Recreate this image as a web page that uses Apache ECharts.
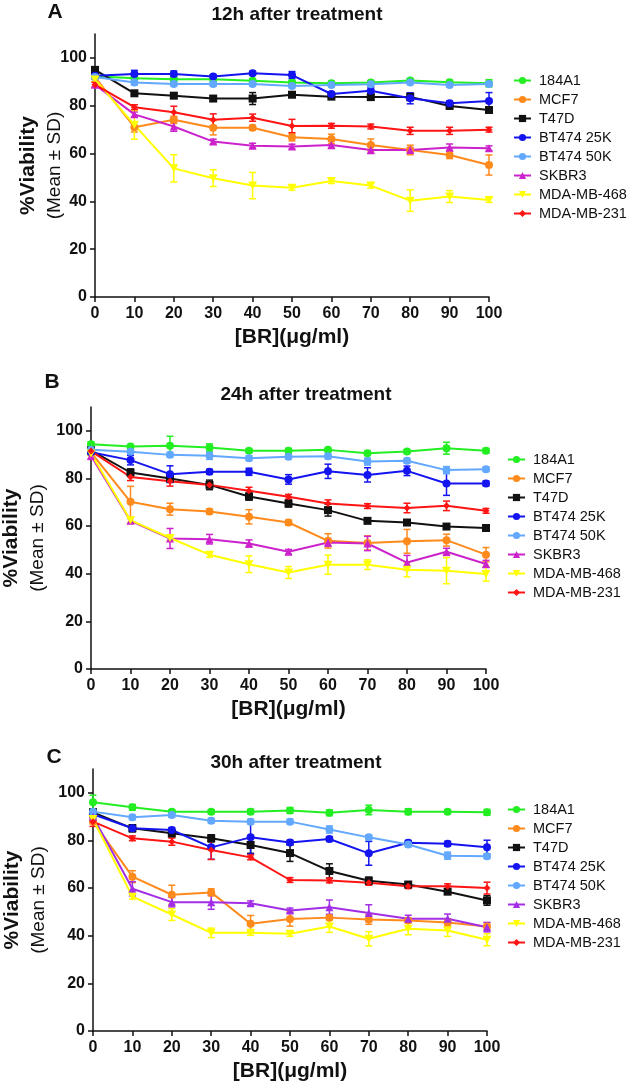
<!DOCTYPE html>
<html><head><meta charset="utf-8">
<script src="https://cdn.jsdelivr.net/npm/echarts@6/dist/echarts.min.js"></script>
<style>html,body{margin:0;padding:0;background:#fff}#c{width:629px;height:1085px}</style>
</head><body><div id="c"></div>
<script>
const doses = [0, 10, 20, 30, 40, 50, 60, 70, 80, 90, 100];
const cellLines = ['184A1', 'MCF7', 'T47D', 'BT474 25K', 'BT474 50K', 'SKBR3', 'MDA-MB-468', 'MDA-MB-231'];
const panelTitles = ['12h after treatment', '24h after treatment', '30h after treatment'];
const panelLetters = ['A', 'B', 'C'];
const yTicks = [0, 20, 40, 60, 80, 100];

// Panel A (12h) means
const A_184A1 = [92.3, 91.5, 91.1, 91.1, 90.4, 89.7, 89.4, 89.7, 90.5, 89.8, 89.4];
const A_MCF7 = [92, 71, 74.1, 70.8, 70.8, 66.8, 66.1, 63.6, 61.5, 59.4, 55.2];
const A_T47D = [95, 85.2, 84.2, 83, 83, 84.6, 83.8, 83.6, 83.7, 79.9, 78.2];
const A_BT25 = [92.5, 93.3, 93.3, 92.2, 93.6, 92.8, 84.9, 86.3, 83.1, 81, 82];
const A_BT50 = [92, 89.7, 89.1, 89.1, 89.1, 88.3, 88.7, 89, 89.7, 88.7, 89.1];
const A_SKBR3 = [88.8, 76.4, 71.3, 65, 63.3, 62.9, 63.6, 61.5, 61.5, 62.5, 62.2];
const A_468 = [91, 72, 53.8, 49.7, 46.6, 45.7, 48.5, 46.6, 40.3, 42, 40.6];
const A_231 = [88.8, 79.4, 77.3, 74.1, 75, 71.5, 71.6, 71.3, 69.5, 69.5, 70];
// Panel A SD
const A_184A1_sd = [1, 0.8, 0.8, 0.8, 0.8, 0.8, 0.8, 0.8, 0.8, 0.8, 1.5];
const A_MCF7_sd = [1, 2, 1.5, 3, 1, 1.5, 2, 2.5, 2, 1.5, 4.2];
const A_T47D_sd = [1, 1, 1, 1, 2.5, 1, 1, 1, 1.5, 1, 1];
const A_BT25_sd = [1, 1.5, 1.2, 0.8, 0.8, 1.5, 0.8, 1.5, 2.3, 1, 3.5];
const A_BT50_sd = [1, 1, 0.8, 0.8, 0.8, 0.8, 0.8, 0.8, 0.8, 0.8, 0.8];
const A_SKBR3_sd = [1, 1, 2, 1, 1, 1, 1.5, 1.5, 1, 1.5, 1];
const A_468_sd = [1, 6, 5.7, 3.5, 5.5, 1, 1, 1, 4.5, 2.5, 1];
const A_231_sd = [1, 1, 2.5, 2.5, 1.5, 2.8, 1, 1, 1.5, 1.5, 1];

// Panel B (24h) means
const B_184A1 = [94.4, 93.4, 93.7, 93, 91.6, 91.6, 92, 90.6, 91.3, 92.7, 91.6];
const B_MCF7 = [91, 70.2, 67.1, 66.1, 63.9, 61.5, 53.8, 52.9, 53.6, 54.1, 48];
const B_T47D = [91.8, 82.5, 80, 77.3, 72.4, 69.5, 66.7, 62.2, 61.5, 59.8, 59.2];
const B_BT25 = [91, 87.7, 81.8, 82.8, 82.8, 79.6, 83, 81.5, 83.2, 77.9, 77.9];
const B_BT50 = [92, 91.2, 89.9, 89.5, 88.5, 89.1, 89.3, 87.1, 87.4, 83.5, 83.9];
const B_SKBR3 = [89.5, 62.2, 54.8, 54.5, 52.7, 49.2, 53.1, 52.7, 44.7, 49.2, 44.1];
const B_468 = [90.5, 62.5, 55, 48, 44, 40.5, 43.8, 43.8, 41.7, 41.3, 39.9];
const B_231 = [91.5, 80.6, 78.8, 77.3, 74.8, 72.3, 69.5, 68.4, 67.6, 68.5, 66.4];
// Panel B SD
const B_184A1_sd = [1, 0.8, 4, 1.5, 0.8, 1, 0.8, 0.8, 0.8, 2.5, 1];
const B_MCF7_sd = [1, 6.5, 2.5, 1, 3, 1, 3, 3, 5, 2.5, 3];
const B_T47D_sd = [1, 1.5, 1.5, 2, 1.5, 1.5, 2.5, 1, 1, 1, 1];
const B_BT25_sd = [1, 2, 3.5, 1, 1.5, 2, 3, 3, 2, 5, 1];
const B_BT50_sd = [1, 1, 1, 1.5, 1, 1, 1, 1.5, 1, 1.5, 1];
const B_SKBR3_sd = [1.5, 1, 4.2, 2, 1.5, 1, 1.5, 3, 3, 1.5, 1.5];
const B_468_sd = [1, 1, 1, 1, 3.5, 2.5, 4, 2, 3, 5.5, 3];
const B_231_sd = [1, 1.5, 2, 1, 1.5, 1, 1.5, 1, 2, 2, 1];

// Panel C (30h) means
const C_184A1 = [96, 93.9, 92.1, 92.1, 92.1, 92.6, 91.6, 92.8, 92.1, 92.1, 91.8];
const C_MCF7 = [88, 64.8, 57.2, 58.2, 45, 47, 47.6, 46.8, 46.4, 45.6, 43.9];
const C_T47D = [91.8, 85.1, 83, 80.9, 78.1, 74.7, 67.2, 63.1, 61.5, 58.5, 54.8];
const C_BT25 = [91, 85.1, 84.4, 77.1, 81.3, 79.1, 80.6, 74.6, 79, 78.6, 77.1];
const C_BT50 = [92.1, 89.7, 90.7, 88.3, 87.9, 87.9, 84.6, 81.3, 78.3, 73.6, 73.4];
const C_SKBR3 = [90, 59.7, 54.1, 54.1, 53.6, 50.6, 52, 49.5, 47.1, 47.1, 43.6];
const C_468 = [89, 56.4, 48.9, 41.2, 41.2, 40.8, 43.9, 38.7, 42.9, 42.2, 38.3];
const C_231 = [87.9, 80.9, 79.5, 76, 72.9, 63.4, 63.2, 62.2, 60.8, 60.8, 60];
// Panel C SD
const C_184A1_sd = [3, 1.2, 0.8, 0.8, 1, 1.2, 1.2, 2, 1.2, 0.8, 1.2];
const C_MCF7_sd = [1, 2.5, 4, 1.5, 3.5, 3, 1, 2, 1, 1.5, 1.5];
const C_T47D_sd = [1.5, 1.5, 1.5, 1.5, 3.5, 3.5, 3, 1.5, 1, 1, 2];
const C_BT25_sd = [1.5, 1, 1, 5, 7, 1, 1, 5, 1, 1, 3];
const C_BT50_sd = [1, 1, 1, 1, 1, 1, 1.5, 1, 1, 1.5, 1];
const C_SKBR3_sd = [1, 3, 2, 3, 1, 1, 3, 3.5, 1.5, 2, 2];
const C_468_sd = [1, 1, 2.5, 2, 1, 1, 2.5, 3, 2.5, 2.5, 2.5];
const C_231_sd = [2, 1, 1.5, 4, 1, 1, 1, 1, 1, 1, 2.5];

const panelMeans = [
  [A_184A1, A_MCF7, A_T47D, A_BT25, A_BT50, A_SKBR3, A_468, A_231],
  [B_184A1, B_MCF7, B_T47D, B_BT25, B_BT50, B_SKBR3, B_468, B_231],
  [C_184A1, C_MCF7, C_T47D, C_BT25, C_BT50, C_SKBR3, C_468, C_231]
];
const panelSD = [
  [A_184A1_sd, A_MCF7_sd, A_T47D_sd, A_BT25_sd, A_BT50_sd, A_SKBR3_sd, A_468_sd, A_231_sd],
  [B_184A1_sd, B_MCF7_sd, B_T47D_sd, B_BT25_sd, B_BT50_sd, B_SKBR3_sd, B_468_sd, B_231_sd],
  [C_184A1_sd, C_MCF7_sd, C_T47D_sd, C_BT25_sd, C_BT50_sd, C_SKBR3_sd, C_468_sd, C_231_sd]
];

// styling (not data)
const baseColors = ['#22ee22', '#ff8a1c', '#111111', '#1414f0', '#62a8ff', '#cc22cc', '#ffff00', '#ff1414'];
const panelSkbrColor = ['#cc22cc', '#cc22cc', '#a22ee6'];
const symbols = ['circle', 'circle', 'rect', 'circle', 'circle', 'triangle', 'path://M0,0 L10,0 L5,9 Z', 'diamond'];
const symbolSizes = [8, 8, 8, 8, 8, 8, [9, 8], 7];
const grids = [
  {left: 95, top: 34, width: 394, height: 263, outerBoundsMode: 'none', containLabel: false},
  {left: 91, top: 407, width: 395, height: 262, outerBoundsMode: 'none', containLabel: false},
  {left: 93, top: 769, width: 394, height: 262, outerBoundsMode: 'none', containLabel: false}
];
const yNameGaps = [27, 40, 41];
const legendTops = [73, 452, 802];
const legendLefts = [513, 507, 507];
const titlePos = [[297, 15], [306, 395], [296, 763]];
const letterPos = [[55, 12], [52, 382], [54, 757]];
const FONT = '"Liberation Sans", Arial, sans-serif';

const xAxes = [], yAxes = [], series = [], legends = [], graphics = [];
grids.forEach((g, p) => {
  xAxes.push({
    gridIndex: p, type: 'value', min: 0, max: 100, interval: 10,
    name: '[BR](μg/ml)', nameLocation: 'middle', nameGap: 30, nameMoveOverlap: false,
    nameTextStyle: {fontFamily: FONT, fontWeight: 'bold', fontSize: 21, color: '#111', verticalAlign: 'top'},
    axisLine: {show: true, onZero: false, lineStyle: {color: '#111', width: 1.5}},
    axisTick: {show: true, length: 5, lineStyle: {color: '#111', width: 1.5}},
    axisLabel: {fontFamily: FONT, fontWeight: 'bold', fontSize: 16, color: '#111', margin: 9},
    splitLine: {show: false}
  });
  yAxes.push({
    gridIndex: p, type: 'value', min: 0, max: 110, interval: 20,
    name: '{a|%Viability}\n{b|(Mean ± SD)}', nameLocation: 'middle', nameGap: yNameGaps[p], nameRotate: 90,
    nameMoveOverlap: false,
    nameTextStyle: {
      fontFamily: FONT, color: '#111',
      rich: {
        a: {fontFamily: FONT, fontWeight: 'bold', fontSize: 21, color: '#111', lineHeight: 27},
        b: {fontFamily: FONT, fontSize: 19, color: '#111', lineHeight: 26}
      }
    },
    axisLine: {show: true, onZero: false, lineStyle: {color: '#111', width: 1.5}},
    axisTick: {show: true, length: 5, customValues: yTicks, lineStyle: {color: '#111', width: 1.5}},
    axisLabel: {fontFamily: FONT, fontWeight: 'bold', fontSize: 16, color: '#111', margin: 8, customValues: yTicks},
    splitLine: {show: false}
  });
  const legendData = [];
  cellLines.forEach((name, s) => {
    const color = s === 5 ? panelSkbrColor[p] : baseColors[s];
    const means = panelMeans[p][s];
    const sds = panelSD[p][s];
    series.push({
      type: 'custom', name: name + ' SD', xAxisIndex: p, yAxisIndex: p, z: 2,
      data: doses.map((d, i) => [d, means[i], sds[i]]),
      encode: {x: 0, y: 1},
      silent: true,
      renderItem: (params, api) => {
        const x = api.value(0), y = api.value(1), e = api.value(2);
        const t = api.coord([x, y + e]), b = api.coord([x, y - e]);
        const c = 3.5;
        const st = {stroke: color, lineWidth: 1.5};
        return {type: 'group', children: [
          {type: 'line', shape: {x1: t[0], y1: t[1], x2: b[0], y2: b[1]}, style: st},
          {type: 'line', shape: {x1: t[0] - c, y1: t[1], x2: t[0] + c, y2: t[1]}, style: st},
          {type: 'line', shape: {x1: b[0] - c, y1: b[1], x2: b[0] + c, y2: b[1]}, style: st}
        ]};
      }
    });
    series.push({
      type: 'line', name: name, xAxisIndex: p, yAxisIndex: p, z: 3,
      data: doses.map((d, i) => [d, means[i]]),
      symbol: symbols[s], symbolSize: symbolSizes[s],
      lineStyle: {color: color, width: 2},
      itemStyle: {color: color},
      emphasis: {disabled: true},
      animation: false
    });
    legendData.push({name: name, itemStyle: {color: color}, lineStyle: {color: color}});
  });
  legends.push({
    orient: 'vertical', left: legendLefts[p], top: legendTops[p], padding: 0,
    data: legendData, itemWidth: 17, itemHeight: 9, itemGap: 4,
    textStyle: {fontFamily: FONT, fontSize: 14.5, color: '#111', padding: [0, 0, 0, 3]},
    selectedMode: false
  });
  graphics.push({
    type: 'text', x: titlePos[p][0], y: titlePos[p][1],
    style: {text: panelTitles[p], font: 'bold 19px ' + FONT, fill: '#111', textAlign: 'center', textVerticalAlign: 'middle'}
  });
  graphics.push({
    type: 'text', x: letterPos[p][0], y: letterPos[p][1],
    style: {text: panelLetters[p], font: 'bold 21px ' + FONT, fill: '#111', textAlign: 'center', textVerticalAlign: 'middle'}
  });
});

const chart = echarts.init(document.getElementById('c'), null, {renderer: 'canvas'});
chart.setOption({
  animation: false,
  backgroundColor: '#fff',
  grid: grids,
  xAxis: xAxes,
  yAxis: yAxes,
  legend: legends,
  series: series,
  graphic: graphics
});
</script>
</body></html>
